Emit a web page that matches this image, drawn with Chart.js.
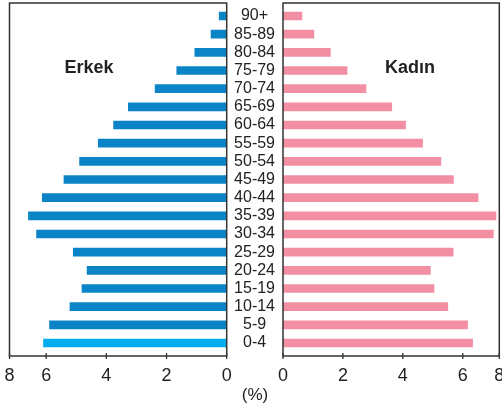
<!DOCTYPE html>
<html>
<head>
<meta charset="utf-8">
<script src="https://cdn.jsdelivr.net/npm/chart.js@4"></script>
<style>
  html, body { margin: 0; padding: 0; background: #fff; }
  body { width: 502px; height: 410px; position: relative; overflow: hidden;
         font-family: 'Liberation Sans', Arial, sans-serif; color: #222; }
  .wrap { position: absolute; top: 0; }
  .lbl { position: absolute; transform: translate(-50%, -50%); white-space: nowrap; }
</style>
</head>
<body>
<div class="wrap" style="left:0px;width:240px;height:410px"><canvas id="left" width="240" height="410"></canvas></div>
<div class="wrap" style="left:227px;width:290px;height:410px"><canvas id="right" width="290" height="410"></canvas></div>
<div class="lbl" style="left:89px;top:67px;font-weight:bold;font-size:18px;">Erkek</div>
<div class="lbl" style="left:410px;top:67px;font-weight:bold;font-size:18px;">Kadın</div>
<div class="lbl" style="left:255px;top:395px;font-size:17px;">(%)</div>
<script>
// ---- data (bottom to top) ----
const ageGroups = ['0-4','5-9','10-14','15-19','20-24','25-29','30-34','35-39','40-44','45-49',
                   '50-54','55-59','60-64','65-69','70-74','75-79','80-84','85-89','90+'];
const erkek = [6.09, 5.89, 5.21, 4.81, 4.64, 5.10, 6.32, 6.59, 6.13, 5.41,
               4.89, 4.27, 3.76, 3.27, 2.38, 1.66, 1.06, 0.52, 0.25];
const kadin = [6.33, 6.16, 5.50, 5.04, 4.92, 5.68, 7.02, 7.11, 6.51, 5.69,
               5.27, 4.66, 4.09, 3.63, 2.77, 2.14, 1.58, 1.03, 0.63];
const xTickValues = [0, 2, 4, 6, 8];
const xTickLabels = ['0', '2', '4', '6', '8'];

const AXIS_MAX = 7.22;      // visible extent of the frame; the "8" label sits at the frame edge
const FONT = "'Liberation Sans', Arial, sans-serif";
const TXT = '#222';
const FRAME = '#333';

const framePlugin = {
  id: 'frame',
  afterDraw(chart) {
    const ctx = chart.ctx, ca = chart.chartArea, xs = chart.scales.x;
    ctx.save();
    ctx.strokeStyle = FRAME;
    ctx.lineWidth = 1.5;
    ctx.strokeRect(ca.left, ca.top, ca.right - ca.left, ca.bottom - ca.top);
    ctx.lineWidth = 1.3;
    xs.ticks.forEach(t => {
      const px = xs.getPixelForValue(t.value);
      ctx.beginPath();
      ctx.moveTo(px, ca.bottom - 3);
      ctx.lineTo(px, ca.bottom + 3);
      ctx.stroke();
    });
    ctx.restore();
  }
};

function xScale(reverse) {
  return {
    type: 'linear', min: 0, max: AXIS_MAX, reverse: reverse, bounds: 'data',
    grid: { display: false }, border: { display: false },
    afterBuildTicks(s) { s.ticks = xTickValues.map(v => ({ value: Math.min(v, AXIS_MAX) })); },
    afterFit(s) { s.height = 54; s.paddingLeft = 0; s.paddingRight = 0; },
    ticks: {
      autoSkip: false, maxRotation: 0, padding: 1, color: TXT,
      font: { family: FONT, size: 18 },
      callback: (v, i) => xTickLabels[i]
    }
  };
}

function yScale(show) {
  return {
    type: 'linear', min: -0.715, max: 18.715, display: show, position: 'left',
    offset: false, bounds: 'data',
    grid: { display: false, offset: false }, border: { display: false },
    afterBuildTicks(s) { s.ticks = ageGroups.map((_, i) => ({ value: i })); },
    afterFit(s) { s.width = show ? 56 : 0; s.paddingTop = 0; s.paddingBottom = 0; },
    ticks: {
      autoSkip: false, padding: 0, crossAlign: 'center', color: TXT,
      font: { family: FONT, size: 16 },
      callback: (v) => ageGroups[v]
    }
  };
}

const common = {
  responsive: false, animation: false, indexAxis: 'y',
  plugins: { legend: { display: false }, tooltip: { enabled: false } },
};

new Chart(document.getElementById('left'), {
  type: 'bar',
  data: { datasets: [{
    data: erkek.map((v, i) => ({ x: v, y: i })),
    backgroundColor: erkek.map((_, i) => i === 0 ? '#00aeef' : '#0a84c6'),
    barThickness: 8, borderWidth: 0
  }]},
  options: Object.assign({}, common, {
    layout: { padding: { top: 3, left: 9.5, right: 13.3, bottom: 0 } },
    scales: { x: xScale(true), y: yScale(false) }
  }),
  plugins: [framePlugin]
});

new Chart(document.getElementById('right'), {
  type: 'bar',
  data: { datasets: [{
    data: kadin.map((v, i) => ({ x: v, y: i })),
    backgroundColor: '#f28fa3',
    barThickness: 8, borderWidth: 0
  }]},
  options: Object.assign({}, common, {
    layout: { padding: { top: 3, left: 0, right: 17.7, bottom: 0 } },
    scales: { x: xScale(false), y: yScale(true) }
  }),
  plugins: [framePlugin]
});
</script>
</body>
</html>
